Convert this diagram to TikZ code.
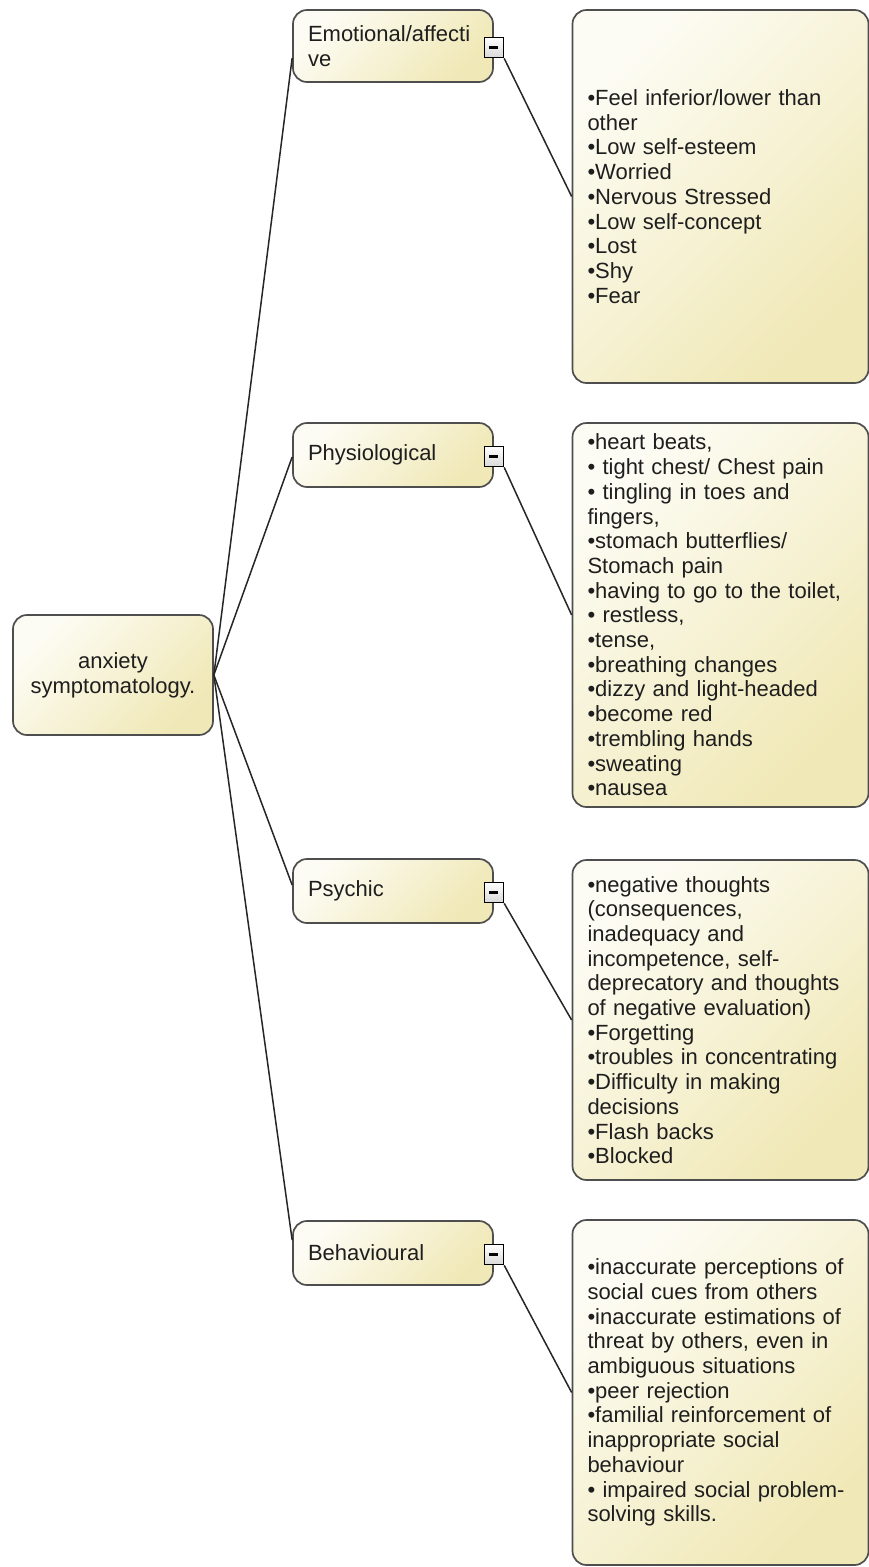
\documentclass[tikz,border=0pt]{standalone}
\usepackage{fontspec}
\setmainfont{Liberation Sans}
\definecolor{creamA}{HTML}{FDFCF4}
\definecolor{creamB}{HTML}{F0E8B6}
\definecolor{boxline}{HTML}{4E4E4E}
\definecolor{txt}{HTML}{1E1E1E}
\tikzset{
  card/.style={draw=boxline, line width=1.7pt, rounded corners=14pt,
    top color=creamA, bottom color=creamB, shading angle=45,
    inner xsep=15pt, inner ysep=0pt, align=left, text=txt,
    font=\fontsize{22}{24.7}\selectfont},
  catbox/.style={card, minimum width=200pt, text width=170pt},
  detailbox/.style={card, minimum width=295pt, text width=266pt},
  toggle/.style={draw=black, line width=1.7pt, minimum width=19pt, minimum height=20pt,
    inner sep=0pt, top color=white, bottom color=black!15},
  link/.style={draw=black!85, line width=1.5pt}
}
\begin{document}
\begin{tikzpicture}[x=1pt, y=-1pt]
\useasboundingbox (0,0) rectangle (869,1567);

% root topic
\node[card, minimum width=200pt, minimum height=120pt, align=center] (root) at (113,675)
  {anxiety\\symptomatology.};

% main branches
\node[catbox, minimum height=72pt] (emo) at (393,46) {Emotional/affecti\\ve};
\node[catbox, minimum height=64pt] (phy) at (393,455) {Physiological};
\node[catbox, minimum height=64pt] (psy) at (393,891) {Psychic};
\node[catbox, minimum height=64pt] (beh) at (393,1253) {Behavioural};

% collapse toggles
\foreach \b in {emo,phy,psy,beh}{
  \node[toggle] (\b-t) at ([yshift=-1.5pt]\b.east) {};
  \draw[line width=2.4pt] ([xshift=-4.5pt]\b-t.center) -- ([xshift=4.5pt]\b-t.center);
}

% detail notes
\node[detailbox, minimum height=373pt] (emo-d) at (720.5,196.5)
  {•Feel inferior/lower than\\other\\•Low self-esteem\\•Worried\\•Nervous Stressed\\•Low self-concept\\•Lost\\•Shy\\•Fear};
\node[detailbox, minimum height=384pt] (phy-d) at (720.5,615)
  {•heart beats,\\• tight chest/ Chest pain\\• tingling in toes and\\fingers,\\•stomach butterflies/\\Stomach pain\\•having to go to the toilet,\\• restless,\\•tense,\\•breathing changes\\•dizzy and light-headed\\•become red\\•trembling hands\\•sweating\\•nausea};
\node[detailbox, minimum height=320pt] (psy-d) at (720.5,1020)
  {•negative thoughts\\(consequences,\\inadequacy and\\incompetence, self-\\deprecatory and thoughts\\of negative evaluation)\\•Forgetting\\•troubles in concentrating\\•Difficulty in making\\decisions\\•Flash backs\\•Blocked};
\node[detailbox, minimum height=345pt] (beh-d) at (720.5,1392.5)
  {•inaccurate perceptions of\\social cues from others\\•inaccurate estimations of\\threat by others, even in\\ambiguous situations\\•peer rejection\\•familial reinforcement of\\inappropriate social\\behaviour\\• impaired social problem-\\solving skills.};

% connectors from the root
\draw[link] (root.east) -- ([yshift=-12pt]emo.west);
\draw[link] (root.east) -- ([yshift=-2pt]phy.west);
\draw[link] (root.east) -- ([yshift=6pt]psy.west);
\draw[link] (root.east) -- ([yshift=13pt]beh.west);

% connectors to the notes
\foreach \b in {emo,phy,psy,beh}{
  \draw[link] (\b-t.south east) -- (\b-d.west);
}
\end{tikzpicture}
\end{document}
